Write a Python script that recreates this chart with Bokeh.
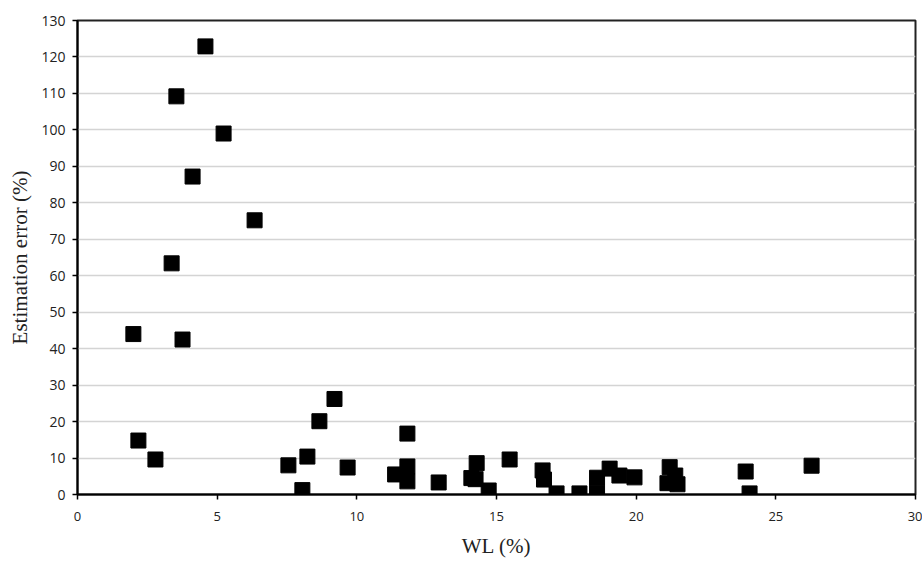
from bokeh.plotting import figure
from bokeh.models import Range1d, FixedTicker, ColumnDataSource
from bokeh.embed import file_html
from bokeh.resources import INLINE

wl = [2.0, 2.18, 2.79, 3.37, 3.54, 3.76, 4.12, 4.58, 5.23, 6.34,
      7.55, 8.05, 8.23, 8.66, 9.2, 9.67, 11.37, 11.81, 11.81, 11.81,
      12.93, 14.1, 14.25, 14.29, 14.72, 15.47, 16.65, 16.7, 17.15, 17.97,
      18.6, 18.6, 19.05, 19.4, 19.94, 21.2, 21.12, 21.4, 21.48, 23.92,
      24.06, 26.28]
err = [44.0, 14.8, 9.6, 63.4, 109.2, 42.5, 87.2, 122.9, 99.0, 75.2,
       8.0, 1.2, 10.4, 20.1, 26.2, 7.4, 5.5, 16.7, 7.7, 3.6,
       3.3, 4.5, 4.2, 8.6, 1.1, 9.6, 6.6, 4.1, 0.3, 0.3,
       4.6, 0.5, 7.1, 5.2, 4.7, 7.5, 3.1, 5.2, 2.8, 6.3,
       0.3, 7.9]

x_ticks = [0, 5, 10, 15, 20, 25, 30]
y_ticks = list(range(0, 131, 10))

src = ColumnDataSource(data=dict(wl=wl, err=err))

p = figure(width=922, height=561, output_backend="svg", toolbar_location=None,
           x_range=Range1d(0, 30), y_range=Range1d(0, 130),
           min_border_left=77, min_border_right=7, min_border_top=20, min_border_bottom=67)

p.scatter("wl", "err", source=src, marker="square", size=15,
          fill_color="black", line_color="black")

p.xaxis.ticker = FixedTicker(ticks=x_ticks)
p.yaxis.ticker = FixedTicker(ticks=y_ticks)
p.xgrid.visible = False
p.ygrid.grid_line_color = "#d4d4d4"
p.ygrid.grid_line_width = 1.5

for ax in (p.xaxis, p.yaxis):
    ax.axis_line_color = "black"
    ax.axis_line_width = 2
    ax.major_tick_line_color = "black"
    ax.major_tick_line_width = 1.5
    ax.major_tick_out = 5
    ax.major_tick_in = 0
    ax.minor_tick_line_color = None
    ax.major_label_text_font = "Open Sans"
    ax.major_label_text_color = "#222222"
    ax.axis_label_text_font = "Liberation Serif"
    ax.axis_label_text_font_size = "21px"
    ax.axis_label_text_font_style = "normal"
    ax.axis_label_text_color = "#222222"

p.xaxis.major_label_text_font_size = "13px"
p.yaxis.major_label_text_font_size = "14px"
p.xaxis.axis_label = "WL (%)"
p.yaxis.axis_label = "Estimation error (%)"
p.xaxis.major_label_standoff = 12
p.xaxis.axis_label_standoff = 10
p.yaxis.major_label_standoff = 7
p.yaxis.axis_label_standoff = 6

p.outline_line_color = "#222222"
p.outline_line_width = 2
p.background_fill_color = "white"
p.border_fill_color = "white"

open("out.html", "w").write(file_html(p, INLINE))
